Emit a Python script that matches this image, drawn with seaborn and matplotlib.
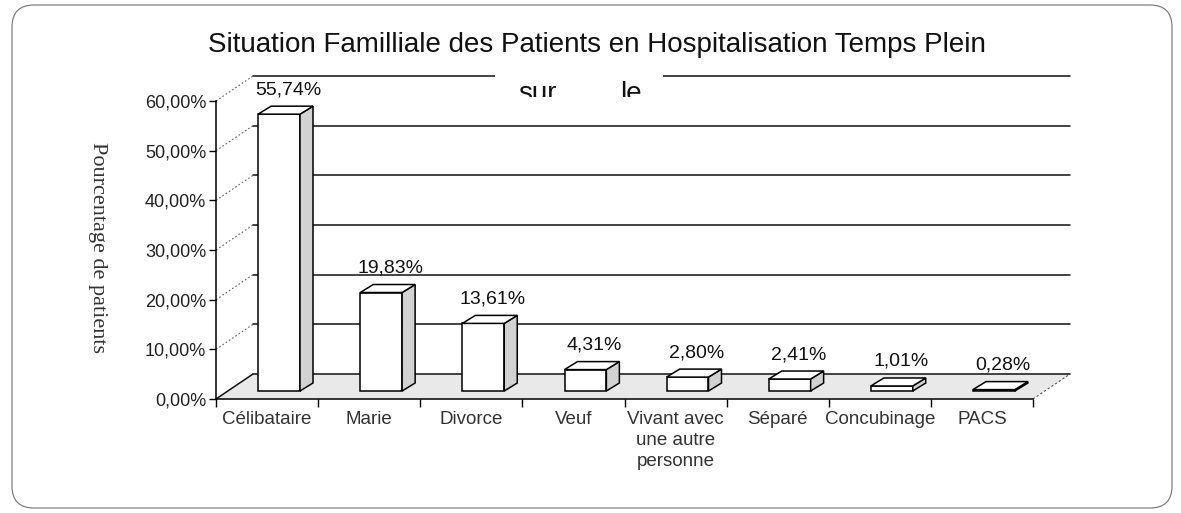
import matplotlib
matplotlib.use("Agg")
import matplotlib.pyplot as plt
import seaborn as sns
import numpy as np
import pandas as pd
from matplotlib.patches import Polygon, FancyBboxPatch, Rectangle
from matplotlib.transforms import Bbox, TransformedBbox
from matplotlib.ticker import FixedLocator, FuncFormatter

# ---- data ----
categories = ["Célibataire", "Marie", "Divorce", "Veuf", "Vivant avec\nune autre\npersonne",
              "Séparé", "Concubinage", "PACS"]
values = [55.74, 19.83, 13.61, 4.31, 2.80, 2.41, 1.01, 0.28]
value_labels = ["55,74%", "19,83%", "13,61%", "4,31%", "2,80%", "2,41%", "1,01%", "0,28%"]
y_ticks = [0, 10, 20, 30, 40, 50, 60]
title = "Situation Familliale des Patients en Hospitalisation Temps Plein"
subtitle_a = "sur"
subtitle_b = "le"
ylabel = "Pourcentage de patients"

sns.set_style("white")
plt.rcParams["font.family"] = ["Liberation Sans", "DejaVu Sans"]

W, H = 1181, 513
fig = plt.figure(figsize=(W / 100, H / 100), dpi=100)

def fx(px):
    return px / W

def fy(py):
    return 1 - py / H

ax_left, ax_right, ax_top, ax_bot = 216, 1033, 101, 399
ax = fig.add_axes([fx(ax_left), fy(ax_bot), fx(ax_right - ax_left), (ax_bot - ax_top) / H])

pxx = len(categories) / (ax_right - ax_left)
pxy = 60 / (ax_bot - ax_top)

wall_dx, wall_dy = 37 * pxx, 25 * pxy
bar_dx, bar_dy = 12 * pxx, 8 * pxy
depth_dx, depth_dy = 13 * pxx, 8 * pxy

x0w, x1w = -0.5, len(categories) - 0.5

# bars (seaborn)
df = pd.DataFrame({"cat": categories, "val": values})
sns.barplot(data=df, x="cat", y="val", order=categories, color="white", edgecolor="black",
            linewidth=1.1, width=0.41, saturation=1, ax=ax, zorder=2)
bars = list(ax.containers[0])
ax.set_xlim(-0.5, len(categories) - 0.5)
ax.set_ylim(0, 60)

# floor
floor = Polygon([(x0w, 0), (x1w, 0), (x1w + wall_dx, wall_dy), (x0w + wall_dx, wall_dy)],
                closed=True, facecolor="#e9e9e9", edgecolor="none", zorder=0.5, clip_on=False)
ax.add_patch(floor)
ax.plot([x1w, x1w + wall_dx], [0, wall_dy], color="#555555", lw=0.8, ls=(0, (2, 2)),
        clip_on=False, zorder=0.6)

# back wall gridlines and left wall diagonals
for v in y_ticks:
    ax.plot([x0w + wall_dx, x1w + wall_dx], [v + wall_dy, v + wall_dy], color="#111111",
            lw=1.1, clip_on=False, zorder=0.7)
    if v == 0:
        ax.plot([x0w, x0w + wall_dx], [v, v + wall_dy], color="#111111", lw=1.1,
                clip_on=False, zorder=0.7)
    else:
        ax.plot([x0w, x0w + wall_dx], [v, v + wall_dy], color="#666666", lw=0.8,
                ls=(0, (1.5, 2)), clip_on=False, zorder=0.7)

for i, p in enumerate(bars):
    p.set_x(p.get_x() + bar_dx)
    p.set_y(p.get_y() + bar_dy)
    p.set_clip_on(False)
    xl = p.get_x()
    xr = xl + p.get_width()
    yb = p.get_y()
    yt = yb + p.get_height()
    top = Polygon([(xl, yt), (xr, yt), (xr + depth_dx, yt + depth_dy), (xl + depth_dx, yt + depth_dy)],
                  closed=True, facecolor="white", edgecolor="black", lw=1.1, zorder=2.1, clip_on=False)
    side = Polygon([(xr, yb), (xr + depth_dx, yb + depth_dy), (xr + depth_dx, yt + depth_dy), (xr, yt)],
                   closed=True, facecolor="#d2d2d2", edgecolor="black", lw=1.1, zorder=2.1, clip_on=False)
    ax.add_patch(side)
    ax.add_patch(top)
    ax.text((xl + xr) / 2 + 9 * pxx, yt + depth_dy + 8 * pxy, value_labels[i], ha="center",
            va="bottom", fontsize=14, color="#111111", zorder=3, clip_on=False)

# axes styling
for s in ["top", "right"]:
    ax.spines[s].set_visible(False)
for s in ["left", "bottom"]:
    ax.spines[s].set_color("black")
    ax.spines[s].set_linewidth(1.1)
    ax.spines[s].set_zorder(3)

ax.yaxis.set_major_locator(FixedLocator(y_ticks))
ax.yaxis.set_major_formatter(FuncFormatter(lambda v, pos: f"{v:.2f}%".replace(".", ",")))
ax.tick_params(axis="y", direction="out", length=5, width=1, color="black", labelsize=13,
               labelcolor="#222222", pad=2, left=True)
ax.set_xticks(range(len(categories)))
ax.set_xticklabels(categories, fontsize=13.5, color="#333333", linespacing=1.3)
ax.tick_params(axis="x", length=0, pad=9)
ax.set_xticks(np.arange(-0.5, len(categories), 1.0), minor=True)
ax.tick_params(axis="x", which="minor", direction="out", length=6, width=1, color="black", bottom=True)
ax.set_xlabel("")
ax.set_ylabel("")
ax.grid(False)
ax.patch.set_alpha(0)

fig.text(fx(97), fy(248), ylabel, rotation=-90, ha="center", va="center", fontsize=16,
         family=["Liberation Serif", "DejaVu Serif"], color="#333333")

# title
fig.text(fx(597), fy(45), title, ha="center", va="center", fontsize=20, color="#111111")
clipbox = TransformedBbox(Bbox.from_extents(0, fy(97), 1, 1), fig.transFigure)
fig.patches.append(Rectangle((fx(495), fy(82)), fx(663 - 495), 8 / H, transform=fig.transFigure,
                             facecolor="white", edgecolor="none", zorder=1))
for txt, xc in [(subtitle_a, 537), (subtitle_b, 631)]:
    t = fig.text(fx(xc), fy(101), txt, ha="center", va="baseline", fontsize=20, color="#111111", zorder=2)
    t.set_clip_on(True)
    t.set_clip_box(clipbox)

# outer rounded frame
frame = FancyBboxPatch((0.12, 0.05), 11.6, 5.03, boxstyle="round,pad=0,rounding_size=0.22",
                       transform=fig.dpi_scale_trans, facecolor="none", edgecolor="#808080", lw=0.9)
fig.patches.append(frame)

fig.savefig("out.png", dpi=100)
